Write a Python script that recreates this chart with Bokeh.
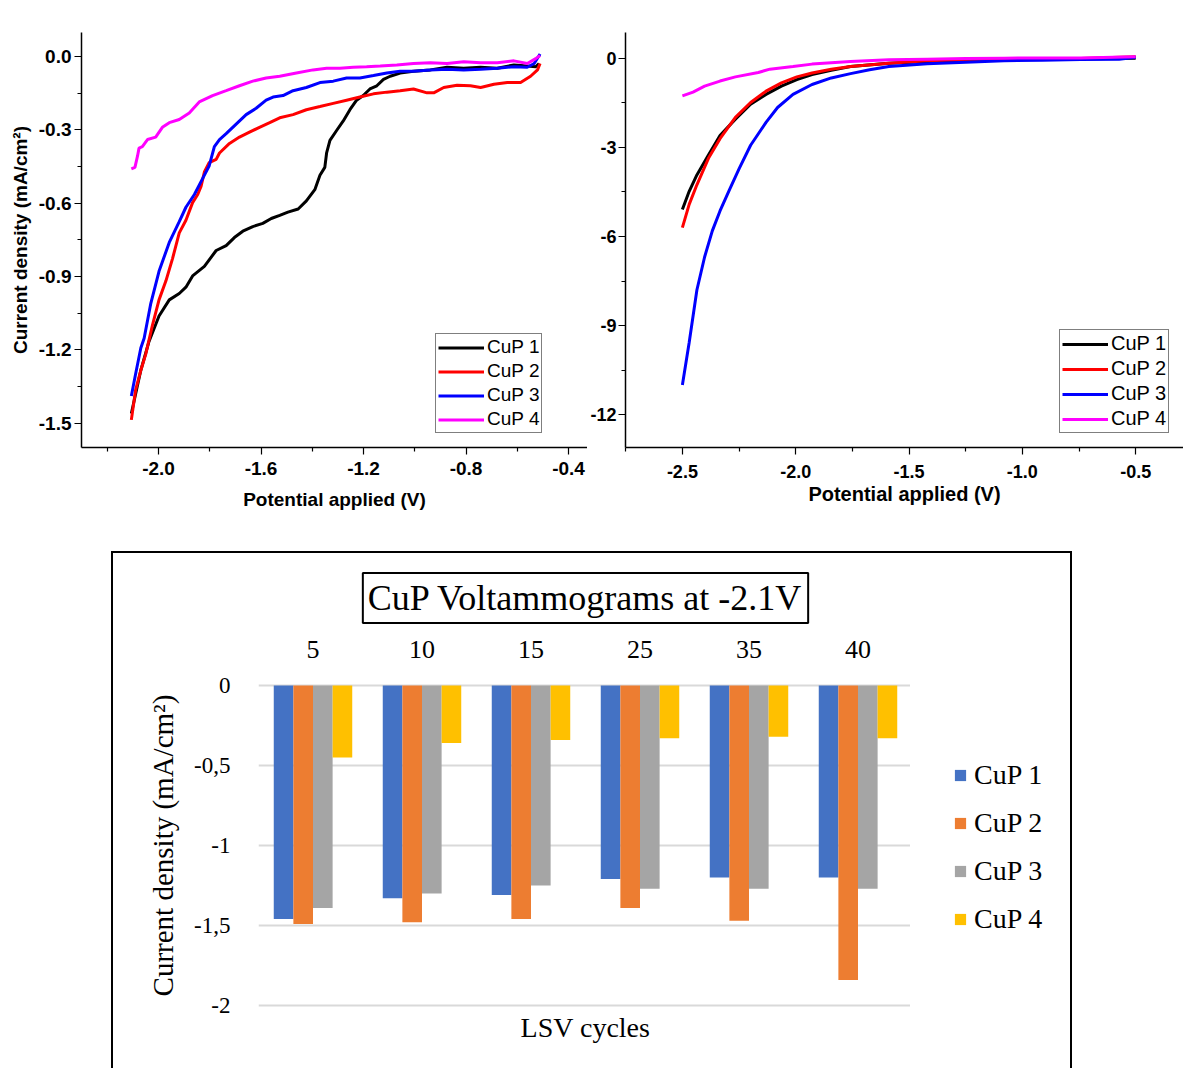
from bokeh.plotting import figure
from bokeh.models import (Range1d, FixedTicker, Legend, LegendItem, Title,
                          CustomJSTickFormatter, FactorRange,
                          Spacer, NumeralTickFormatter, ColumnDataSource)
from bokeh.layouts import column, row
from bokeh.transform import dodge
from bokeh.embed import file_html
from bokeh.resources import INLINE

SANS = "Liberation Sans"
SERIF = "Liberation Serif"

# ---------------- Panel A: LSV, -2.1 V to -0.5 V ----------------
a_v_cup1 = [-2.106, -2.069, -2.037, -1.998, -1.958, -1.919, -1.893, -1.867, -1.821, -1.775,
            -1.736, -1.704, -1.671, -1.632, -1.593, -1.560, -1.527, -1.495, -1.455, -1.423,
            -1.390, -1.370, -1.351, -1.344, -1.331, -1.305, -1.279, -1.253, -1.227, -1.201,
            -1.175, -1.148, -1.122, -1.096, -1.057, -1.005, -0.939, -0.874, -0.809, -0.743,
            -0.678, -0.613, -0.561, -0.528, -0.515]
a_j_cup1 = [-1.461, -1.284, -1.166, -1.062, -0.996, -0.970, -0.944, -0.898, -0.859, -0.794,
            -0.774, -0.741, -0.715, -0.696, -0.683, -0.663, -0.650, -0.637, -0.624, -0.591,
            -0.545, -0.486, -0.454, -0.395, -0.343, -0.303, -0.264, -0.218, -0.179, -0.160,
            -0.133, -0.120, -0.094, -0.081, -0.068, -0.061, -0.055, -0.044, -0.048, -0.044,
            -0.048, -0.035, -0.039, -0.042, -0.029]

a_v_cup2 = [-2.106, -2.089, -2.069, -2.050, -2.024, -1.998, -1.971, -1.945, -1.919, -1.893,
            -1.867, -1.847, -1.834, -1.821, -1.802, -1.775, -1.762, -1.723, -1.684, -1.645,
            -1.606, -1.566, -1.527, -1.475, -1.423, -1.370, -1.318, -1.266, -1.214, -1.161,
            -1.109, -1.057, -1.005, -0.952, -0.926, -0.887, -0.835, -0.783, -0.743, -0.691,
            -0.639, -0.587, -0.548, -0.521, -0.511]
a_j_cup2 = [-1.487, -1.363, -1.284, -1.219, -1.101, -0.996, -0.918, -0.826, -0.722, -0.670,
            -0.598, -0.565, -0.532, -0.473, -0.434, -0.421, -0.395, -0.356, -0.330, -0.310,
            -0.290, -0.271, -0.251, -0.238, -0.218, -0.205, -0.192, -0.179, -0.166, -0.153,
            -0.146, -0.140, -0.133, -0.149, -0.149, -0.127, -0.118, -0.120, -0.127, -0.114,
            -0.107, -0.107, -0.081, -0.055, -0.029]

a_v_cup3 = [-2.106, -2.089, -2.069, -2.056, -2.030, -1.998, -1.958, -1.919, -1.893, -1.860,
            -1.828, -1.802, -1.782, -1.762, -1.736, -1.697, -1.658, -1.619, -1.580, -1.553,
            -1.514, -1.475, -1.423, -1.370, -1.318, -1.266, -1.214, -1.161, -1.109, -1.057,
            -1.005, -0.939, -0.874, -0.809, -0.743, -0.678, -0.613, -0.561, -0.534, -0.511]
a_j_cup3 = [-1.389, -1.297, -1.193, -1.153, -1.010, -0.879, -0.761, -0.676, -0.617, -0.565,
            -0.500, -0.447, -0.369, -0.340, -0.316, -0.277, -0.238, -0.212, -0.179, -0.166,
            -0.160, -0.140, -0.127, -0.107, -0.101, -0.088, -0.088, -0.078, -0.068, -0.061,
            -0.061, -0.055, -0.052, -0.055, -0.052, -0.048, -0.042, -0.044, -0.029, 0.010]

a_v_cup4 = [-2.106, -2.092, -2.082, -2.076, -2.063, -2.043, -2.011, -1.985, -1.958, -1.919,
            -1.880, -1.841, -1.789, -1.736, -1.684, -1.632, -1.580, -1.527, -1.462, -1.397,
            -1.344, -1.292, -1.240, -1.188, -1.135, -1.070, -1.005, -0.939, -0.874, -0.809,
            -0.743, -0.678, -0.613, -0.561, -0.528, -0.511]
a_j_cup4 = [-0.460, -0.454, -0.408, -0.375, -0.369, -0.340, -0.330, -0.290, -0.271, -0.258,
            -0.231, -0.186, -0.160, -0.140, -0.120, -0.101, -0.088, -0.081, -0.068, -0.055,
            -0.048, -0.048, -0.044, -0.042, -0.039, -0.035, -0.029, -0.026, -0.029, -0.022,
            -0.026, -0.026, -0.018, -0.029, -0.009, 0.004]

# ---------------- Panel B: LSV, -2.5 V to -0.5 V ----------------
b_v_cup1 = [-2.500, -2.470, -2.436, -2.385, -2.334, -2.266, -2.199, -2.131, -2.063, -1.995,
            -1.928, -1.843, -1.758, -1.589, -1.420, -1.250, -1.081, -0.912, -0.742, -0.500]
b_j_cup1 = [-5.09, -4.48, -3.93, -3.26, -2.60, -2.05, -1.55, -1.22, -0.94, -0.72,
            -0.55, -0.41, -0.28, -0.17, -0.11, -0.077, -0.055, -0.033, -0.022, 0.0]

b_v_cup2 = [-2.500, -2.470, -2.436, -2.385, -2.334, -2.266, -2.199, -2.131, -2.063, -1.995,
            -1.928, -1.843, -1.758, -1.589, -1.420, -1.250, -1.081, -0.912, -0.742, -0.500]
b_j_cup2 = [-5.70, -4.92, -4.26, -3.37, -2.71, -1.99, -1.49, -1.11, -0.83, -0.63,
            -0.50, -0.37, -0.28, -0.17, -0.09, -0.055, -0.033, -0.022, -0.011, 0.05]

b_v_cup3 = [-2.500, -2.470, -2.436, -2.402, -2.368, -2.334, -2.292, -2.249, -2.199, -2.131,
            -2.080, -2.012, -1.928, -1.843, -1.758, -1.674, -1.589, -1.420, -1.250, -1.081,
            -0.912, -0.742, -0.573, -0.500]
b_j_cup3 = [-11.0, -9.57, -7.80, -6.69, -5.81, -5.14, -4.42, -3.71, -2.93, -2.16,
            -1.66, -1.22, -0.885, -0.664, -0.520, -0.387, -0.277, -0.188, -0.133, -0.088,
            -0.066, -0.044, -0.033, 0.03]

b_v_cup4 = [-2.500, -2.453, -2.402, -2.334, -2.266, -2.165, -2.114, -2.012, -1.928, -1.758,
            -1.589, -1.420, -1.250, -1.081, -0.912, -0.742, -0.500]
b_j_cup4 = [-1.27, -1.14, -0.94, -0.77, -0.63, -0.48, -0.37, -0.28, -0.20, -0.11,
            -0.055, -0.033, -0.011, 0.0, 0.01, 0.01, 0.05]

series_names = ["CuP 1", "CuP 2", "CuP 3", "CuP 4"]
line_colors = ["#000000", "#ff0000", "#0000ff", "#ff00ff"]

# ---------------- Panel C: bars at -2.1 V ----------------
cycles = ["5", "10", "15", "25", "35", "40"]
bar_cup1 = [-1.46, -1.33, -1.31, -1.21, -1.20, -1.20]
bar_cup2 = [-1.49, -1.48, -1.46, -1.39, -1.47, -1.84]
bar_cup3 = [-1.39, -1.30, -1.25, -1.27, -1.27, -1.27]
bar_cup4 = [-0.45, -0.36, -0.34, -0.33, -0.32, -0.33]
bar_colors = ["#4472C4", "#ED7D31", "#A5A5A5", "#FFC000"]


def style_origin_axes(p, tick_size, title_size):
    for ax in (p.xaxis[0], p.yaxis[0]):
        ax.axis_line_color = "black"
        ax.axis_line_width = 1.5
        ax.major_tick_line_color = "black"
        ax.minor_tick_line_color = "black"
        ax.major_tick_line_width = 1.2
        ax.minor_tick_line_width = 1.2
        ax.major_tick_out = 7
        ax.major_tick_in = 0
        ax.minor_tick_out = 4
        ax.minor_tick_in = 0
        ax.major_label_text_font = SANS
        ax.major_label_text_font_style = "bold"
        ax.major_label_text_font_size = tick_size
        ax.major_label_text_color = "black"
        ax.axis_label_text_font = SANS
        ax.axis_label_text_font_style = "bold"
        ax.axis_label_text_font_size = title_size
        ax.axis_label_text_color = "black"
    p.grid.visible = False
    p.outline_line_color = None
    p.background_fill_color = "white"
    p.border_fill_color = "white"


def origin_legend(p, renderers, loc, font_size, lh, sp):
    items = [LegendItem(label=n, renderers=[r]) for n, r in zip(series_names, renderers)]
    leg = Legend(items=items, location=loc)
    leg.border_line_color = "black"
    leg.border_line_width = 1
    leg.padding = 2
    leg.margin = 0
    leg.spacing = sp
    leg.label_height = lh
    leg.glyph_height = lh
    leg.glyph_width = 46
    leg.label_standoff = 3
    leg.label_text_font = SANS
    leg.label_text_font_size = font_size
    leg.label_text_color = "black"
    leg.background_fill_color = "white"
    leg.background_fill_alpha = 1
    p.add_layout(leg)


# ----- Figure A -----
p1 = figure(width=587, height=551, x_range=Range1d(-2.3005, -0.3259),
            y_range=Range1d(-1.6, 0.098), output_backend="svg", toolbar_location=None,
            min_border_left=81, min_border_right=0, min_border_top=14, min_border_bottom=104)
style_origin_axes(p1, "19px", "19px")
p1.xaxis.ticker = FixedTicker(ticks=[-2.0, -1.6, -1.2, -0.8, -0.4],
                              minor_ticks=[-2.2, -1.8, -1.4, -1.0, -0.6])
p1.yaxis.ticker = FixedTicker(ticks=[0.0, -0.3, -0.6, -0.9, -1.2, -1.5],
                              minor_ticks=[-0.15, -0.45, -0.75, -1.05, -1.35])
p1.xaxis.formatter = NumeralTickFormatter(format="0.0")
p1.yaxis.formatter = NumeralTickFormatter(format="0.0")
p1.xaxis.axis_label = "Potential applied (V)"
p1.yaxis.axis_label = "Current density (mA/cm²)"
p1.xaxis.major_label_standoff = 7
p1.yaxis.major_label_standoff = 3
p1.xaxis.axis_label_standoff = 11
p1.yaxis.axis_label_standoff = 5
ra = []
for xs, ys, c in zip([a_v_cup1, a_v_cup2, a_v_cup3, a_v_cup4],
                     [a_j_cup1, a_j_cup2, a_j_cup3, a_j_cup4], line_colors):
    ra.append(p1.line(xs, ys, line_color=c, line_width=3))
origin_legend(p1, ra, (354, 14), "19px", 21, 2)

# ----- Figure B -----
p2 = figure(width=596, height=551, x_range=Range1d(-2.751, -0.289),
            y_range=Range1d(-13.1, 0.864), output_backend="svg", toolbar_location=None,
            min_border_left=37, min_border_right=0, min_border_top=32, min_border_bottom=99)
style_origin_axes(p2, "18px", "20px")
p2.xaxis.ticker = FixedTicker(ticks=[-2.5, -2.0, -1.5, -1.0, -0.5],
                              minor_ticks=[-2.75, -2.25, -1.75, -1.25, -0.75])
p2.yaxis.ticker = FixedTicker(ticks=[0, -3, -6, -9, -12],
                              minor_ticks=[-1.5, -4.5, -7.5, -10.5])
p2.xaxis.formatter = NumeralTickFormatter(format="0.0")
p2.yaxis.formatter = NumeralTickFormatter(format="0")
p2.xaxis.axis_label = "Potential applied (V)"
p2.xaxis.major_label_standoff = 10
p2.yaxis.major_label_standoff = 2
p2.xaxis.axis_label_standoff = 2
rb = []
for xs, ys, c in zip([b_v_cup1, b_v_cup2, b_v_cup3, b_v_cup4],
                     [b_j_cup1, b_j_cup2, b_j_cup3, b_j_cup4], line_colors):
    rb.append(p2.line(xs, ys, line_color=c, line_width=3))
origin_legend(p2, rb, (434, 14), "20px", 22, 2)

# ----- Figure C (bars) -----
src = ColumnDataSource(dict(cycle=cycles, cup1=bar_cup1, cup2=bar_cup2,
                            cup3=bar_cup3, cup4=bar_cup4))
p3 = figure(width=799, height=517, x_range=FactorRange(*cycles),
            y_range=Range1d(-2.0125, 0.0125), x_axis_location="above",
            output_backend="svg", toolbar_location=None,
            min_border_left=145, min_border_right=0, min_border_top=130, min_border_bottom=63)
p3.styles = {"border-top": "2px solid black", "border-left": "2px solid black"}
p3.outline_line_color = None
p3.xgrid.visible = False
p3.ygrid.grid_line_color = "#d9d9d9"
p3.ygrid.grid_line_width = 2
p3.yaxis.ticker = FixedTicker(ticks=[0, -0.5, -1, -1.5, -2])
p3.yaxis.formatter = CustomJSTickFormatter(code="return tick.toString().replace('.', ',');")
for ax in (p3.xaxis[0], p3.yaxis[0]):
    ax.axis_line_color = None
    ax.major_tick_line_color = None
    ax.minor_tick_line_color = None
    ax.major_label_text_font = SERIF
    ax.major_label_text_color = "black"
    ax.axis_label_text_font = SERIF
    ax.axis_label_text_font_style = "normal"
    ax.axis_label_text_font_size = "29px"
    ax.axis_label_text_color = "black"
p3.xaxis[0].major_label_text_font_size = "26px"
p3.yaxis[0].major_label_text_font_size = "23px"
p3.xaxis[0].major_label_standoff = 20
p3.yaxis[0].major_label_standoff = 22
p3.yaxis[0].axis_label = "Current density (mA/cm²)"
p3.yaxis[0].axis_label_standoff = 12

p3.title = Title(text="CuP Voltammograms at -2.1V", align="center", text_font=SERIF,
                 text_font_size="36px", text_font_style="normal", text_color="black",
                 border_line_color="black", border_line_width=2,
                 background_fill_color="white", padding=5, standoff=29)
p3.add_layout(Title(text="LSV cycles", align="center", text_font=SERIF,
                    text_font_size="28px", text_font_style="normal", text_color="black",
                    standoff=4), "below")

offsets = [-0.27, -0.09, 0.09, 0.27]
cols = ["cup1", "cup2", "cup3", "cup4"]
for off, col, c in zip(offsets, cols, bar_colors):
    p3.vbar(x=dodge("cycle", off, range=p3.x_range), top=0, bottom=col,
            width=0.18, source=src, fill_color=c, line_color=None)

# ----- legend panel to the right of the bar chart (same outer box) -----
pl = figure(width=162, height=517, x_range=Range1d(0, 1), y_range=Range1d(0, 1),
            x_axis_type=None, y_axis_type=None, output_backend="svg", toolbar_location=None,
            min_border=0, min_border_left=0, min_border_right=0, min_border_top=0,
            min_border_bottom=0)
pl.styles = {"border-top": "2px solid black", "border-right": "2px solid black"}
pl.outline_line_color = None
pl.grid.visible = False
# swatch renderers for the legend, kept outside the visible range of this panel
swatch = ColumnDataSource(dict(x=[5.0], top=[5.0], bottom=[4.0]))
rl = [pl.vbar(x="x", top="top", bottom="bottom", width=0.1, source=swatch,
              fill_color=c, line_color=None) for c in bar_colors]
leg3 = Legend(items=[LegendItem(label=n, renderers=[r]) for n, r in zip(series_names, rl)],
              location=(43, 72))
leg3.border_line_color = None
leg3.margin = 0
leg3.padding = 0
leg3.spacing = 16
leg3.label_height = 26
leg3.glyph_height = 14
leg3.glyph_width = 14
leg3.label_standoff = 7
leg3.label_text_font = SERIF
leg3.label_text_font_size = "28px"
leg3.label_text_color = "black"
leg3.background_fill_alpha = 0
pl.add_layout(leg3)

layout = column(row(p1, p2), row(Spacer(width=111, height=517), p3, pl))

with open("out.html", "w") as f:
    f.write(file_html(layout, INLINE))
